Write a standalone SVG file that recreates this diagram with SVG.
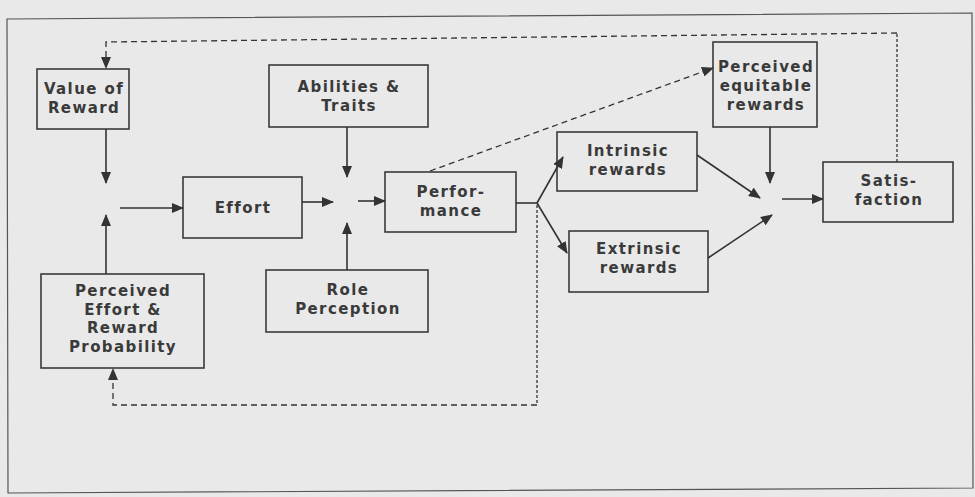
<svg xmlns="http://www.w3.org/2000/svg" width="975" height="497" viewBox="0 0 975 497">
<defs>
<style>
.bx{fill:none;stroke:#3a3a3a;stroke-width:1.6}
.t{font-family:"DejaVu Sans","Liberation Sans",sans-serif;font-weight:bold;font-size:15px;letter-spacing:1.4px;fill:#3a3a3a;text-anchor:middle}
.s{fill:none;stroke:#333;stroke-width:1.6}
.d{fill:none;stroke:#333;stroke-width:1.3;stroke-dasharray:6 4}
.dv{fill:none;stroke:#333;stroke-width:1.3;stroke-dasharray:3 2}
</style>
<marker id="ah" markerUnits="userSpaceOnUse" markerWidth="12" markerHeight="10" refX="11" refY="5" orient="auto">
<path d="M0,0 L12,5 L0,10 z" fill="#333"/>
</marker>
</defs>
<rect width="975" height="497" fill="#e9e9e9"/>
<path d="M7,19 L972,13 L973,488 L8,493 Z" fill="none" stroke="#555" stroke-width="1.2"/>

<g id="value-of-reward"><rect class="bx" x="37" y="69" width="92" height="60"/><text class="t" x="84" y="94">Value of</text><text class="t" x="84" y="113">Reward</text></g>
<g id="abilities-traits"><rect class="bx" x="269" y="65" width="159" height="62"/><text class="t" x="349" y="92">Abilities &amp;</text><text class="t" x="349" y="111">Traits</text></g>
<g id="effort"><rect class="bx" x="183" y="177" width="119" height="61"/><text class="t" x="243" y="213">Effort</text></g>
<g id="performance"><rect class="bx" x="385" y="172" width="131" height="60"/><text class="t" x="451" y="197">Perfor-</text><text class="t" x="451" y="216">mance</text></g>
<g id="perceived-equitable-rewards"><rect class="bx" x="713" y="42" width="104" height="85"/><text class="t" x="766" y="72">Perceived</text><text class="t" x="766" y="91">equitable</text><text class="t" x="766" y="110">rewards</text></g>
<g id="intrinsic-rewards"><rect class="bx" x="557" y="132" width="140" height="59"/><text class="t" x="628" y="156">Intrinsic</text><text class="t" x="628" y="175">rewards</text></g>
<g id="satisfaction"><rect class="bx" x="823" y="162" width="130" height="60"/><text class="t" x="889" y="186">Satis-</text><text class="t" x="889" y="205">faction</text></g>
<g id="extrinsic-rewards"><rect class="bx" x="569" y="231" width="139" height="61"/><text class="t" x="639" y="254">Extrinsic</text><text class="t" x="639" y="273">rewards</text></g>
<g id="perceived-effort-reward-probability"><rect class="bx" x="41" y="274" width="163" height="94"/><text class="t" x="123" y="296">Perceived</text><text class="t" x="123" y="314.5">Effort &amp;</text><text class="t" x="123" y="333">Reward</text><text class="t" x="123" y="351.5">Probability</text></g>
<g id="role-perception"><rect class="bx" x="266" y="270" width="162" height="62"/><text class="t" x="348" y="295">Role</text><text class="t" x="348" y="314">Perception</text></g>

<g id="connectors">
<line class="s" x1="106" y1="129" x2="106" y2="183" marker-end="url(#ah)"/>
<line class="s" x1="106" y1="274" x2="106" y2="215" marker-end="url(#ah)"/>
<line class="s" x1="120" y1="208" x2="183" y2="208" marker-end="url(#ah)"/>
<line class="s" x1="302" y1="202" x2="333" y2="202" marker-end="url(#ah)"/>
<line class="s" x1="347" y1="127" x2="347" y2="177" marker-end="url(#ah)"/>
<line class="s" x1="347" y1="270" x2="347" y2="223" marker-end="url(#ah)"/>
<line class="s" x1="358" y1="201" x2="385" y2="201" marker-end="url(#ah)"/>
<line class="s" x1="516" y1="203" x2="537" y2="203"/>
<line class="s" x1="537" y1="203" x2="563" y2="157" marker-end="url(#ah)"/>
<line class="s" x1="537" y1="203" x2="567" y2="253" marker-end="url(#ah)"/>
<line class="s" x1="697" y1="155" x2="760" y2="198" marker-end="url(#ah)"/>
<line class="s" x1="708" y1="258" x2="772" y2="215" marker-end="url(#ah)"/>
<line class="s" x1="770" y1="127" x2="770" y2="183" marker-end="url(#ah)"/>
<line class="s" x1="782" y1="199" x2="823" y2="199" marker-end="url(#ah)"/>
<line class="d" x1="430" y1="171" x2="713" y2="68" marker-end="url(#ah)"/>
<polyline class="dv" points="897,162 897,33"/>
<polyline class="d" points="897,33 106,42 106,68" marker-end="url(#ah)"/>
<polyline class="dv" points="537,205 537,405"/>
<polyline class="d" points="537,405 113,405 113,369" marker-end="url(#ah)"/>
</g>
</svg>
